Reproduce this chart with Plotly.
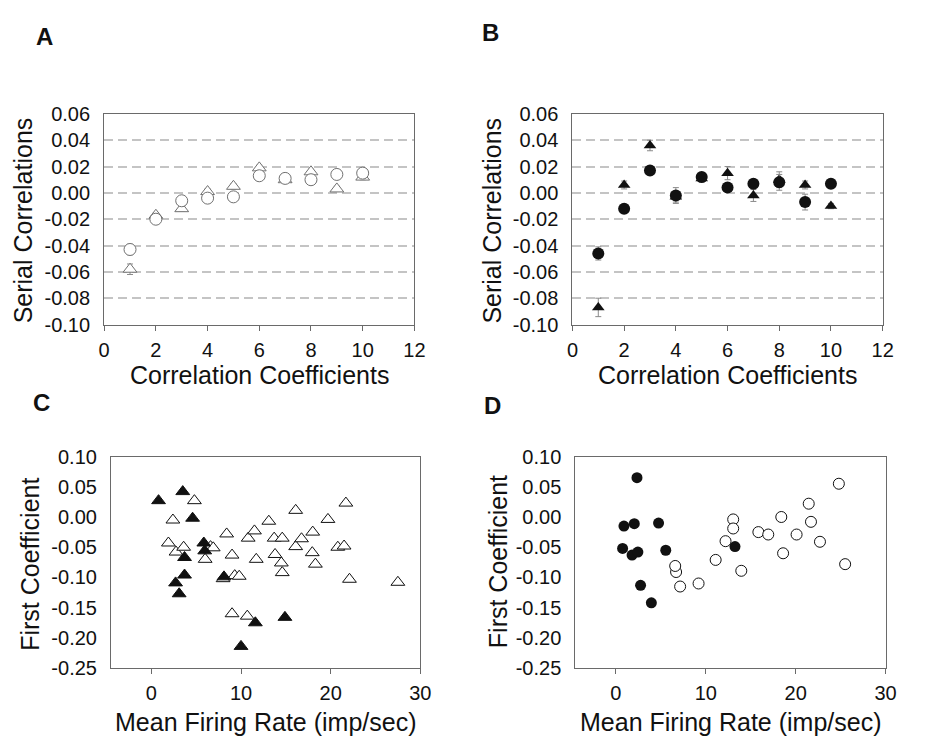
import plotly.graph_objects as go

W, H = 929, 750
font_fam = "Liberation Sans, Arial, sans-serif"

# Panel A: open circles / open triangles (serial correlations by lag)
lag = [1, 2, 3, 4, 5, 6, 7, 8, 9, 10]
a_circ = [-0.043, -0.020, -0.006, -0.004, -0.003, 0.013, 0.011, 0.010, 0.014, 0.015]
a_circ_err = [0.004, 0.003, 0.003, 0.003, 0.002, 0.002, 0.003, 0.003, 0.003, 0.003]
a_tri = [-0.058, -0.017, -0.012, 0.001, 0.005, 0.019, 0.010, 0.016, 0.003, 0.012]
a_tri_err = [0.004, 0.002, 0.002, 0.002, 0.002, 0.002, 0.002, 0.002, 0.002, 0.002]

# Panel B: filled circles / filled triangles
b_circ = [-0.046, -0.012, 0.017, -0.002, 0.012, 0.004, 0.007, 0.008, -0.007, 0.007]
b_circ_err = [0.005, 0.003, 0.003, 0.006, 0.003, 0.003, 0.003, 0.006, 0.006, 0.003]
b_tri = [-0.087, 0.006, 0.036, -0.003, 0.011, 0.015, -0.002, 0.010, 0.006, -0.010]
b_tri_err = [0.007, 0.003, 0.004, 0.004, 0.003, 0.005, 0.0045, 0.006, 0.003, 0.002]

# Panel C: first coefficient vs firing rate (triangles)
c_open_x = [4.8, 2.4, 1.9, 2.75, 3.6, 6.0, 6.6, 6.9, 8.4, 9.0, 8.0, 9.3, 9.8, 9.0, 10.7,
            10.8, 11.5, 11.7, 13.1, 13.7, 13.8, 14.6, 14.5, 14.6, 16.1, 16.1, 16.75,
            18.0, 17.95, 18.3, 19.7, 20.8, 21.5, 21.7, 22.1, 27.5]
c_open_y = [0.027, -0.005, -0.043, -0.058, -0.050, -0.070, -0.049, -0.051, -0.028, -0.063,
            -0.102, -0.097, -0.098, -0.160, -0.164, -0.035, -0.023, -0.070, -0.007, -0.035,
            -0.062, -0.035, -0.076, -0.092, 0.011, -0.049, -0.036, -0.025, -0.059, -0.078,
            -0.004, -0.050, -0.048, 0.023, -0.103, -0.108]
c_fill_x = [0.8, 3.5, 4.6, 5.85, 5.95, 3.7, 3.7, 2.7, 3.1, 8.1, 11.6, 14.9, 10.0]
c_fill_y = [0.027, 0.042, -0.002, -0.043, -0.056, -0.067, -0.096, -0.109, -0.127,
            -0.099, -0.175, -0.166, -0.214]

# Panel D: first coefficient vs firing rate (circles)
d_open_x = [24.8, 21.45, 21.7, 18.4, 18.6, 20.1, 22.7, 25.5, 15.85, 16.95, 13.05, 13.05,
            12.2, 13.95, 11.1, 9.2, 7.15, 6.7, 6.6]
d_open_y = [0.055, 0.022, -0.008, 0.000, -0.060, -0.029, -0.041, -0.078, -0.025, -0.029,
            -0.004, -0.019, -0.040, -0.089, -0.071, -0.110, -0.115, -0.091, -0.081]
d_fill_x = [2.35, 0.9, 2.05, 4.75, 0.75, 1.8, 2.45, 5.55, 2.75, 3.95, 13.25]
d_fill_y = [0.065, -0.015, -0.011, -0.010, -0.052, -0.063, -0.058, -0.055, -0.113,
            -0.142, -0.049]

ser_ticks = [0.06, 0.04, 0.02, 0.00, -0.02, -0.04, -0.06, -0.08, -0.10]
ser_text = ["0.06", "0.04", "0.02", "0.00", "-0.02", "-0.04", "-0.06", "-0.08", "-0.10"]
fc_ticks = [0.10, 0.05, 0.00, -0.05, -0.10, -0.15, -0.20, -0.25]
fc_text = ["0.10", "0.05", "0.00", "-0.05", "-0.10", "-0.15", "-0.20", "-0.25"]

gray = "#707070"
black = "#111111"
err = dict(type="data", thickness=1, width=3, color="#8a8a8a")

fig = go.Figure()

# A (triangles under circles)
fig.add_trace(go.Scatter(x=lag, y=a_tri, mode="markers", xaxis="x", yaxis="y",
                         error_y=dict(array=a_tri_err, **err),
                         marker=dict(symbol="triangle-up", size=12, color="white",
                                     line=dict(color=gray, width=1))))
fig.add_trace(go.Scatter(x=lag, y=a_circ, mode="markers", xaxis="x", yaxis="y",
                         error_y=dict(array=a_circ_err, **err),
                         marker=dict(symbol="circle", size=12, color="white",
                                     line=dict(color=gray, width=1))))
# B
fig.add_trace(go.Scatter(x=lag, y=b_tri, mode="markers", xaxis="x2", yaxis="y2",
                         error_y=dict(array=b_tri_err, **err),
                         marker=dict(symbol="triangle-up", size=11, color=black,
                                     line=dict(width=0))))
fig.add_trace(go.Scatter(x=lag, y=b_circ, mode="markers", xaxis="x2", yaxis="y2",
                         error_y=dict(array=b_circ_err, **err),
                         marker=dict(symbol="circle", size=12, color=black,
                                     line=dict(width=0))))
# C
fig.add_trace(go.Scatter(x=c_open_x, y=c_open_y, mode="markers", xaxis="x3", yaxis="y3",
                         marker=dict(symbol="triangle-up", size=12, color="white",
                                     line=dict(color=black, width=1))))
fig.add_trace(go.Scatter(x=c_fill_x, y=c_fill_y, mode="markers", xaxis="x3", yaxis="y3",
                         marker=dict(symbol="triangle-up", size=12, color=black,
                                     line=dict(color=black, width=1))))
# D
fig.add_trace(go.Scatter(x=d_open_x, y=d_open_y, mode="markers", xaxis="x4", yaxis="y4",
                         marker=dict(symbol="circle", size=11, color="white",
                                     line=dict(color=black, width=1))))
fig.add_trace(go.Scatter(x=d_fill_x, y=d_fill_y, mode="markers", xaxis="x4", yaxis="y4",
                         marker=dict(symbol="circle", size=11, color=black,
                                     line=dict(width=0))))

tickfont = dict(family=font_fam, size=20, color="#111")
xcommon = dict(showgrid=False, zeroline=False, showline=True, mirror=True,
               linecolor="#6a6a6a", linewidth=1.2, ticks="outside", ticklen=5,
               tickcolor="#6a6a6a", tickfont=tickfont, ticklabelstandoff=2)
ycommon = dict(zeroline=False, showline=True, mirror=True, linecolor="#6a6a6a",
               linewidth=1.2, ticks="", tickfont=tickfont, ticklabelstandoff=9)
sergrid = dict(showgrid=True, gridcolor="#c4c4c4", gridwidth=1.5, griddash="9px,5px")


def px_x(a, b):
    return [a / W, b / W]


def px_y(top, bottom):
    return [1 - bottom / H, 1 - top / H]


fig.update_layout(
    width=W, height=H,
    margin=dict(l=0, r=0, t=0, b=0),
    paper_bgcolor="white", plot_bgcolor="white",
    showlegend=False,
    font=dict(family=font_fam, color="#111"),
    xaxis=dict(domain=px_x(100, 416), anchor="y", range=[0, 12], tickvals=list(range(0, 13, 2)), **xcommon),
    yaxis=dict(domain=px_y(106, 323), anchor="x", range=[-0.10, 0.06], tickvals=ser_ticks,
               ticktext=ser_text, **ycommon, **sergrid),
    xaxis2=dict(domain=px_x(577, 893), anchor="y2", range=[0, 12], tickvals=list(range(0, 13, 2)), **xcommon),
    yaxis2=dict(domain=px_y(106, 323), anchor="x2", range=[-0.10, 0.06], tickvals=ser_ticks,
                ticktext=ser_text, **ycommon, **sergrid),
    xaxis3=dict(domain=px_x(107, 422), anchor="y3", range=[-4.5, 30], tickvals=[0, 10, 20, 30], **xcommon),
    yaxis3=dict(domain=px_y(459, 677), anchor="x3", range=[-0.25, 0.10], tickvals=fc_ticks,
                ticktext=fc_text, showgrid=False, **ycommon),
    xaxis4=dict(domain=px_x(580, 896), anchor="y4", range=[-4.5, 30], tickvals=[0, 10, 20, 30], **xcommon),
    yaxis4=dict(domain=px_y(459, 677), anchor="x4", range=[-0.25, 0.10], tickvals=fc_ticks,
                ticktext=fc_text, showgrid=False, **ycommon),
)

titlefont = dict(family=font_fam, size=25, color="#111")
letterfont = dict(family=font_fam, size=24, color="#111", weight="bold")


def note(text, x, y, font, angle=0):
    fig.add_annotation(text=text, x=x / W, y=1 - y / H, xref="paper", yref="paper",
                       xanchor="center", yanchor="middle", showarrow=False,
                       textangle=angle, font=font)


note("Serial Correlations", 17, 216, titlefont, -90)
note("Serial Correlations", 495, 216, titlefont, -90)
note("Correlation Coefficients", 258, 375, titlefont)
note("Correlation Coefficients", 735, 375, titlefont)
note("First Coefficient", 25, 570, titlefont, -90)
note("First Coefficient", 502, 567, titlefont, -90)
note("Mean Firing Rate (imp/sec)", 264, 733, titlefont)
note("Mean Firing Rate (imp/sec)", 738, 733, titlefont)
note("A", 39, 26, letterfont)
note("B", 494, 22, letterfont)
note("C", 36, 403, letterfont)
note("D", 496, 406, letterfont)

# the page's default body margin would push the fixed-size figure off the window
fig.write_html("out.html", config={"displayModeBar": False},
               post_script="document.body.style.margin='0';")
